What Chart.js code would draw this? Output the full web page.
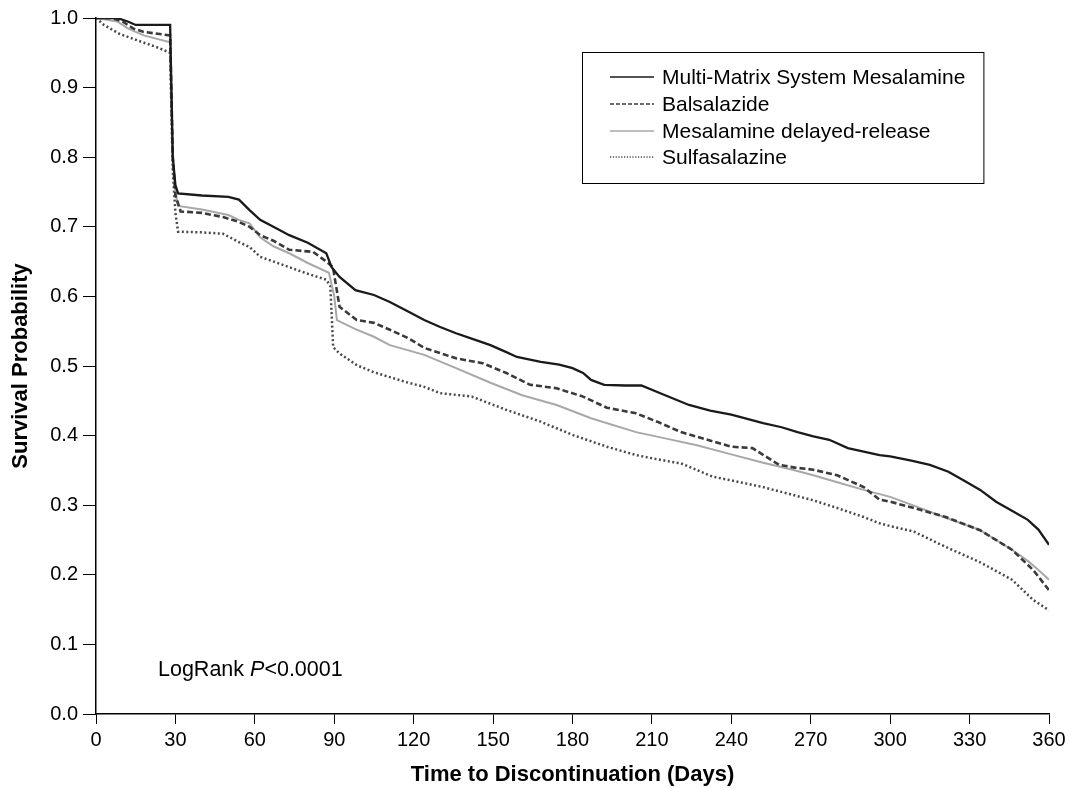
<!DOCTYPE html>
<html>
<head>
<meta charset="utf-8">
<script src="https://cdn.jsdelivr.net/npm/chart.js@4.4.1/dist/chart.umd.min.js"></script>
<style>
  html, body { margin: 0; padding: 0; background: #ffffff; }
  #wrap { width: 1071px; height: 788px; position: relative; }
</style>
</head>
<body>
<div id="wrap"><canvas id="c" width="1071" height="788"></canvas></div>
<script>
// ---- Data ----
const seriesNames = ["Multi-Matrix System Mesalamine", "Balsalazide", "Mesalamine delayed-release", "Sulfasalazine"];

const mmxDays = [0,8,12,15,28,29,30,31,40,50,54,58,62,67,73,80,87,89,92,98,105,111,117,124,130,136,143,149,155,159,168,175,180,184,187,192,200,206,215,224,232,240,246,252,259,265,271,277,284,290,296,300,308,315,322,328,334,340,346,352,356,360];
const mmxSurv = [1.0,1.0,0.995,0.99,0.99,0.80,0.76,0.748,0.745,0.743,0.739,0.724,0.71,0.70,0.688,0.677,0.662,0.642,0.628,0.609,0.602,0.592,0.58,0.566,0.556,0.547,0.538,0.53,0.52,0.513,0.506,0.502,0.497,0.49,0.48,0.473,0.472,0.472,0.458,0.444,0.436,0.43,0.424,0.418,0.412,0.405,0.399,0.394,0.382,0.377,0.372,0.37,0.364,0.358,0.348,0.335,0.322,0.305,0.292,0.279,0.265,0.243];

const balDays = [0,6,10,14,18,28,29,30,32,40,48,54,58,62,67,73,82,87,89.5,92,98.5,105,111,118,124,136,146,155,164,174,184,193,204,212,221,230,240,248,258,264,271,280,290,296,300,309,321,334,346,354,360];
const balSurv = [1.0,1.0,0.995,0.985,0.98,0.975,0.80,0.745,0.722,0.72,0.714,0.707,0.70,0.688,0.68,0.667,0.664,0.65,0.642,0.585,0.566,0.562,0.552,0.54,0.526,0.511,0.504,0.49,0.473,0.468,0.456,0.44,0.432,0.42,0.405,0.395,0.384,0.382,0.358,0.354,0.351,0.343,0.326,0.308,0.305,0.296,0.283,0.264,0.236,0.207,0.178];

const mdrDays = [0,8,12,18,28,29,30,31,40,50,54,58,62,67,73,80,88,90,91,98,105,111,124,136,149,161,174,187,204,215,227,240,252,262,271,280,290,300,310,321,334,346,352,356,360];
const mdrSurv = [1.0,0.995,0.985,0.975,0.965,0.80,0.75,0.73,0.725,0.717,0.71,0.705,0.685,0.672,0.662,0.648,0.634,0.60,0.566,0.553,0.542,0.53,0.516,0.497,0.476,0.458,0.444,0.425,0.405,0.396,0.386,0.373,0.361,0.352,0.343,0.333,0.322,0.312,0.298,0.282,0.264,0.236,0.22,0.207,0.193];

const sulDays = [0,3,9,17,23,28,29,30,31,40,48,54,58,62,73,79.6,87,88.5,89.6,92,98.6,105,111,117,124,130,142,155,168,180,193,204,212,221,233,242,252,262,271,280,290,296,300,309,321,334,346,354,360];
const sulSurv = [1.0,0.99,0.977,0.966,0.958,0.95,0.78,0.72,0.693,0.692,0.69,0.678,0.671,0.657,0.642,0.633,0.624,0.615,0.527,0.518,0.501,0.491,0.484,0.477,0.47,0.461,0.456,0.437,0.42,0.401,0.384,0.372,0.366,0.36,0.341,0.334,0.326,0.316,0.307,0.296,0.283,0.274,0.270,0.262,0.24,0.218,0.193,0.164,0.149];

const xTicks = [0,30,60,90,120,150,180,210,240,270,300,330,360];
const yTicks = [0,0.1,0.2,0.3,0.4,0.5,0.6,0.7,0.8,0.9,1.0];
const annotationText = ["LogRank ", "P", "<0.0001"];

// ---- Helpers ----
function pts(days, vals) { return days.map((d, i) => ({ x: d, y: vals[i] })); }

const styles = [
  { color: "#1a1a1a", width: 2.3, dash: [] },
  { color: "#3a3a3a", width: 2.6, dash: [6, 3] },
  { color: "#a8a8a8", width: 2.0, dash: [] },
  { color: "#4a4a4a", width: 2.5, dash: [2, 2.5] }
];
const dataArrays = [pts(mmxDays, mmxSurv), pts(balDays, balSurv), pts(mdrDays, mdrSurv), pts(sulDays, sulSurv)];

const FONT = "'Liberation Sans', Arial, Helvetica, sans-serif";

const legendPlugin = {
  id: "boxLegend",
  afterDraw(chart) {
    const ctx = chart.ctx;
    ctx.save();
    ctx.font = "21px " + FONT;
    let maxW = 0;
    chart.data.datasets.forEach(ds => { maxW = Math.max(maxW, ctx.measureText(ds.label).width); });
    const bx = 582, by = 52, bh = 131;
    const bw = 662 + maxW + 18 - bx;
    ctx.strokeStyle = "#000";
    ctx.lineWidth = 1;
    ctx.strokeRect(bx + 0.5, by + 0.5, bw, bh);
    const rows = [77, 104, 131, 157];
    ctx.textBaseline = "middle";
    ctx.fillStyle = "#000";
    chart.data.datasets.forEach((ds, i) => {
      const y = rows[i];
      ctx.beginPath();
      ctx.strokeStyle = ds.borderColor;
      ctx.lineWidth = 1.6;
      ctx.setLineDash(i === 1 ? [4, 2] : (i === 3 ? [1.2, 1.6] : []));
      ctx.moveTo(610, y);
      ctx.lineTo(654, y);
      ctx.stroke();
      ctx.setLineDash([]);
      ctx.fillText(ds.label, 662, y + 1);
    });
    // LogRank annotation
    let x = 158;
    const ay = 670;
    const fs = "21.5px ";
    ctx.font = fs + FONT;
    ctx.fillText(annotationText[0], x, ay);
    x += ctx.measureText(annotationText[0]).width;
    ctx.font = "italic " + fs + FONT;
    ctx.fillText(annotationText[1], x, ay);
    x += ctx.measureText(annotationText[1]).width;
    ctx.font = fs + FONT;
    ctx.fillText(annotationText[2], x, ay);
    ctx.restore();
  }
};

new Chart(document.getElementById("c"), {
  type: "line",
  data: {
    datasets: seriesNames.map((name, i) => ({
      label: name,
      data: dataArrays[i],
      borderColor: styles[i].color,
      borderWidth: styles[i].width,
      borderDash: styles[i].dash,
      pointRadius: 0,
      tension: 0,
      fill: false
    }))
  },
  options: {
    responsive: false,
    animation: false,
    devicePixelRatio: 1,
    layout: { padding: { top: 18, right: 22, left: 0, bottom: 0 } },
    plugins: { legend: { display: false }, tooltip: { enabled: false } },
    scales: {
      x: {
        type: "linear",
        min: 0, max: 360,
        afterBuildTicks(scale) { scale.ticks = xTicks.map(v => ({ value: v })); },
        afterFit(scale) { scale.height = 74; },
        grid: { drawOnChartArea: false, drawTicks: true, tickLength: 10, color: "#000", tickWidth: 1 },
        border: { display: true, color: "#000", width: 1.5 },
        ticks: { color: "#000", font: { family: FONT, size: 20 }, padding: 4, maxRotation: 0, autoSkip: false },
        title: { display: true, text: "Time to Discontinuation (Days)", color: "#000", font: { family: FONT, size: 22, weight: "bold" }, padding: { top: 6, bottom: 0 } }
      },
      y: {
        type: "linear",
        min: 0, max: 1,
        afterBuildTicks(scale) { scale.ticks = yTicks.map(v => ({ value: v })); },
        afterFit(scale) { scale.width = 96; },
        grid: { drawOnChartArea: false, drawTicks: true, tickLength: 13, color: "#000", tickWidth: 1 },
        border: { display: true, color: "#000", width: 1.5 },
        ticks: { color: "#000", font: { family: FONT, size: 20 }, padding: 5, callback: v => v.toFixed(1) },
        title: { display: true, text: "Survival Probability", color: "#000", font: { family: FONT, size: 22, weight: "bold" }, padding: { top: 8, bottom: 0 } }
      }
    }
  },
  plugins: [legendPlugin]
});
</script>
</body>
</html>
